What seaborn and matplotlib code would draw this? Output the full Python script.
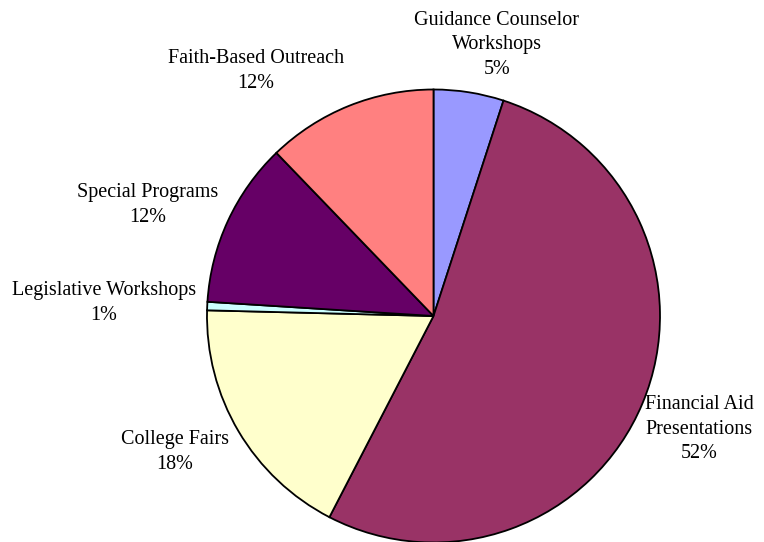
import matplotlib
matplotlib.use("Agg")
import matplotlib.pyplot as plt
import seaborn as sns

# Data
categories = ['Guidance Counselor\nWorkshops', 'Financial Aid\nPresentations', 'College Fairs',
              'Legislative Workshops', 'Special Programs', 'Faith-Based Outreach']
shares = [5.0, 52.6, 17.8, 0.6, 11.8, 12.2]
pct_labels = ['5%', '52%', '18%', '1%', '12%', '12%']
colors = ['#9999FF', '#993366', '#FFFFCC', '#CCFFFF', '#660066', '#FF8080']

sns.set_theme(style='white')
plt.rcParams['font.family'] = ['Liberation Serif', 'DejaVu Serif']

W, H = 764, 542
fig = plt.figure(figsize=(W / 100, H / 100), dpi=100)
ax = fig.add_axes([0, 0, 1, 1])

# Pie
ax.pie(shares, colors=sns.color_palette(colors), startangle=90, counterclock=False,
       center=(433.5, H - 316), radius=226.5, frame=True,
       wedgeprops=dict(edgecolor='black', linewidth=1.3))
ax.set_xlim(0, W)
ax.set_ylim(0, H)
ax.set_aspect('equal')
ax.axis('off')

# Label positions (pixel centres, measured from top)
label_pos = [(497, 45), (699, 429), (175, 452), (104, 303), (148, 205), (256, 71)]
for name, pct, (x, y) in zip(categories, pct_labels, label_pos):
    ax.text(x, H - y, name + '\n' + pct, ha='center', va='center',
            fontsize=14.5, color='black', linespacing=1.42)

fig.savefig('out.png', dpi=100)
